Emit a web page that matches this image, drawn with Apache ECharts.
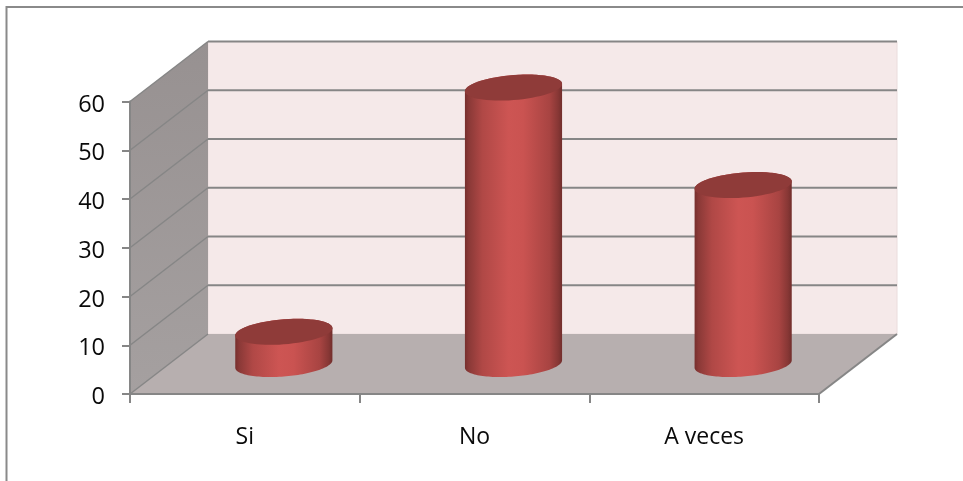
<!DOCTYPE html>
<html>
<head>
<meta charset="utf-8">
<style>html,body{margin:0;padding:0;background:#fff}#c{width:963px;height:481px}</style>
<script src="https://cdn.jsdelivr.net/npm/echarts@6/dist/echarts.min.js"></script>
</head>
<body>
<div id="c"></div>
<script>
const categories = ['Si', 'No', 'A veces'];
const values = [6.6, 56.7, 36.7];
const yTicks = [0, 10, 20, 30, 40, 50, 60];

const DX = 78, DY = 60;            // oblique depth of the 3D box
const GRID = '#868686';
const FONT = '"Open Sans", sans-serif';
const chart = echarts.init(document.getElementById('c'), null, {renderer: 'canvas'});

function renderBox(params, api) {
  const tick = api.value(0);
  const maxV = yTicks[yTicks.length - 1];
  const children = [];
  const s = params.coordSys;
  const x0 = s.x, x1 = s.x + s.width;
  const y0 = api.coord([0, 0])[1], yTop = api.coord([0, maxV])[1];
  if (params.dataIndex === 0) {
    children.push({type: 'polygon', shape: {points: [[x0 + DX, y0 - DY], [x1 + DX, y0 - DY], [x1 + DX, yTop - DY], [x0 + DX, yTop - DY]]},
      style: {fill: '#f5e9e9', stroke: '#eadcdc', lineWidth: 1}});
    children.push({type: 'polygon', shape: {points: [[x0, y0], [x0 + DX, y0 - DY], [x0 + DX, yTop - DY], [x0, yTop]]},
      style: {fill: new echarts.graphic.LinearGradient(0, 0, 0, 1, [{offset: 0, color: '#979191'}, {offset: 1, color: '#a5a0a0'}])}});
    children.push({type: 'polygon', shape: {points: [[x0, y0], [x1, y0], [x1 + DX, y0 - DY], [x0 + DX, y0 - DY]]},
      style: {fill: '#b7afaf'}});
    children.push({type: 'line', shape: {x1: x1, y1: y0, x2: x1 + DX, y2: y0 - DY}, style: {stroke: GRID, lineWidth: 2}});
  }
  const y = api.coord([0, tick])[1];
  children.push({type: 'line', shape: {x1: x0, y1: y, x2: x0 + DX, y2: y - DY}, style: {stroke: GRID, lineWidth: 1.5}});
  if (tick > 0) {
    children.push({type: 'line', shape: {x1: x0 + DX, y1: y - DY, x2: x1 + DX, y2: y - DY}, style: {stroke: GRID, lineWidth: 2}});
  }
  return {type: 'group', children};
}

function ellipsePts(cx, cy, a, b, sh, from, to) {
  const pts = [], n = 64;
  for (let i = 0; i <= n; i++) {
    const t = from + (to - from) * i / n;
    pts.push([cx + a * Math.cos(t), cy + b * Math.sin(t) - sh * Math.cos(t)]);
  }
  return pts;
}

function renderCylinder(params, api) {
  const base = api.coord([api.value(0), 0]);
  const top = api.coord([api.value(0), api.value(1)]);
  const band = api.size([1, 0])[0];
  const a = band * 0.2115, b = 12.5, sh = 3.7;
  const cx = base[0] + DX / 2;
  const yb = base[1] - DY / 2, yt = top[1] - DY / 2;
  const body = ellipsePts(cx, yb, a, b, sh, 0, Math.PI).concat(ellipsePts(cx, yt, a, b, sh, Math.PI, 2 * Math.PI));
  return {type: 'group', children: [
    {type: 'polygon', shape: {points: body},
      style: {fill: new echarts.graphic.LinearGradient(0, 0, 1, 0, [
        {offset: 0, color: '#772f2d'}, {offset: 0.04, color: '#8a3937'}, {offset: 0.18, color: '#b04846'},
        {offset: 0.45, color: '#cd5553'}, {offset: 0.6, color: '#ca5351'}, {offset: 0.87, color: '#a84442'},
        {offset: 0.96, color: '#873735'}, {offset: 1, color: '#722e2c'}])}},
    {type: 'polygon', shape: {points: ellipsePts(cx, yt, a, b, sh, 0, 2 * Math.PI)}, style: {fill: '#8f3b39'}}
  ]};
}

chart.setOption({
  animation: false,
  backgroundColor: '#fff',
  graphic: [{type: 'rect', shape: {x: 6.5, y: 7, width: 1000, height: 520},
    style: {fill: 'none', stroke: '#8a8a8a', lineWidth: 2}, silent: true, z: -1}],
  grid: {left: 130, right: 144, top: 101.5, bottom: 87},
  xAxis: {type: 'category', data: categories, z: 10,
    axisLine: {lineStyle: {color: GRID, width: 2}},
    axisTick: {show: true, alignWithLabel: false, length: 9, lineStyle: {color: GRID, width: 2}},
    axisLabel: {color: '#0a0a0a', fontFamily: FONT, fontSize: 23, margin: 32}},
  yAxis: {type: 'value', min: 0, max: 60, interval: 10, z: 10,
    axisLine: {show: true, lineStyle: {color: GRID, width: 2}},
    axisTick: {show: true, length: 8, lineStyle: {color: GRID, width: 2}},
    splitLine: {show: false},
    axisLabel: {color: '#0a0a0a', fontFamily: FONT, fontSize: 23.5, margin: 25, verticalAlign: 'top', lineHeight: 7}},
  series: [
    {type: 'custom', name: 'box', silent: true, z: 1, data: yTicks.map(t => [t]),
      encode: {x: [], y: 0}, renderItem: renderBox, clip: false},
    {type: 'custom', name: 'Serie', z: 3, data: values.map((v, i) => [i, v]),
      encode: {x: 0, y: 1}, renderItem: renderCylinder, clip: false}
  ]
});
</script>
</body>
</html>
